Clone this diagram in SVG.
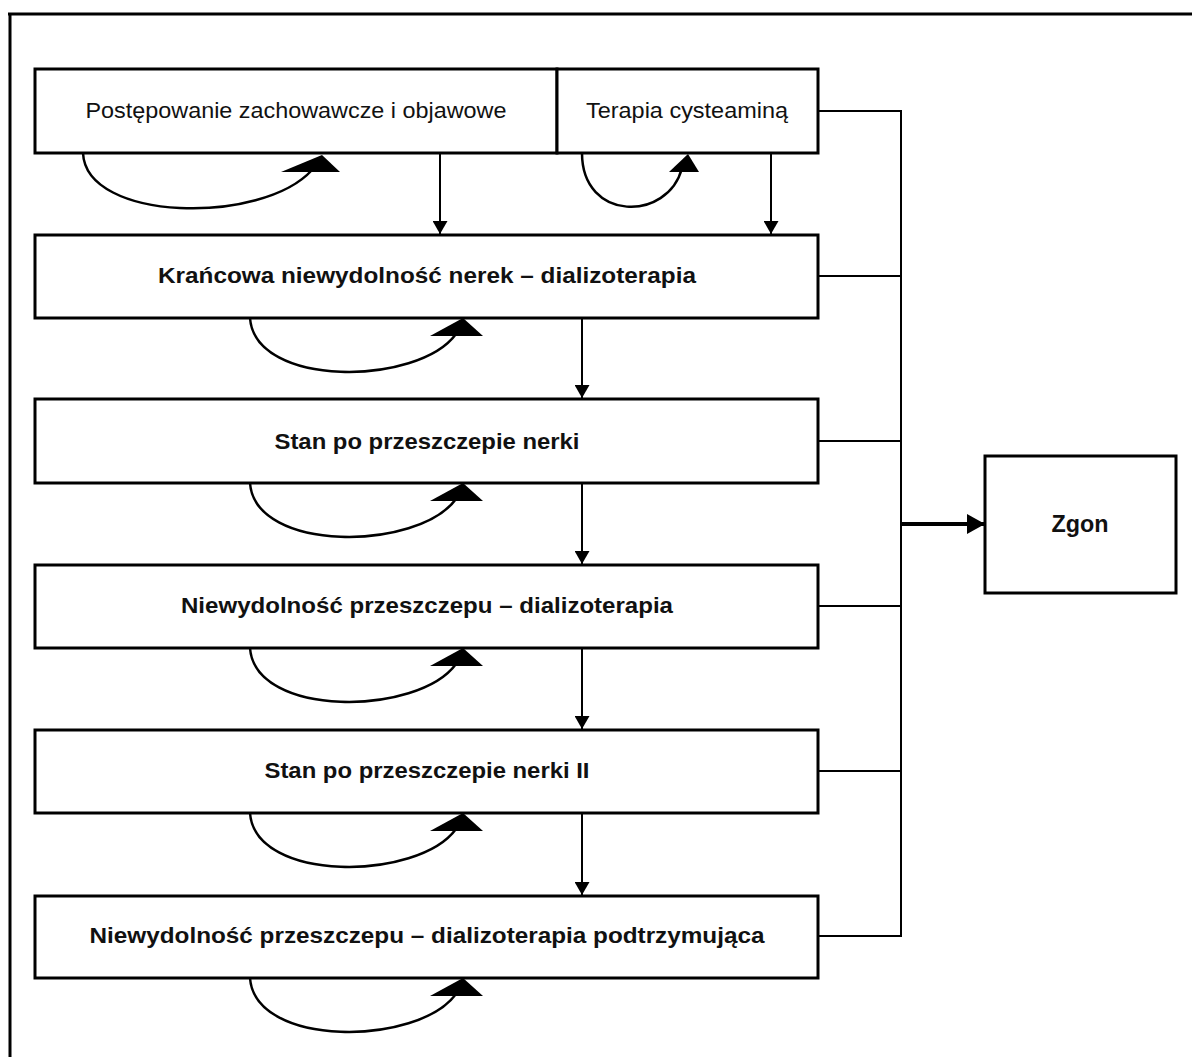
<svg xmlns="http://www.w3.org/2000/svg" width="1192" height="1057" viewBox="0 0 1192 1057">
<style>
.box{fill:#fff;stroke:#000;stroke-width:3}
.t{font-family:"Liberation Sans",Arial,sans-serif;font-size:22px;fill:#111;text-anchor:middle;dominant-baseline:central}
.b{font-weight:bold}
.ln{fill:none;stroke:#000;stroke-width:2}
.loop{fill:none;stroke:#000;stroke-width:2.5}
.ah{fill:#000}
</style>
<defs>
<marker id="arr" markerWidth="13" markerHeight="15" refX="13" refY="7.5" orient="auto" markerUnits="userSpaceOnUse">
<path d="M0,0 L13,7.5 L0,15 Z" fill="#000"/>
</marker>
<marker id="arrB" markerWidth="18" markerHeight="20" refX="18" refY="10" orient="auto" markerUnits="userSpaceOnUse">
<path d="M0,0 L18,10 L0,20 Z" fill="#000"/>
</marker>
</defs>
<rect width="1192" height="1057" fill="#fff"/>
<g id="frame">
<line x1="8" y1="14" x2="1192" y2="14" stroke="#000" stroke-width="3"/>
<line x1="10" y1="13" x2="10" y2="1057" stroke="#000" stroke-width="3"/>
</g>
<g id="node-postepowanie">
<rect class="box" x="35" y="69" width="522" height="84"/>
<text class="t" x="296" y="110" textLength="421" lengthAdjust="spacingAndGlyphs">Postępowanie zachowawcze i objawowe</text>
</g>
<g id="node-terapia">
<rect class="box" x="557" y="69" width="261" height="84"/>
<text class="t" x="687" y="110" textLength="202" lengthAdjust="spacingAndGlyphs">Terapia cysteaminą</text>
</g>
<g id="node-krancowa">
<rect class="box" x="35" y="235" width="783" height="83"/>
<text class="t b" x="427" y="275" textLength="538" lengthAdjust="spacingAndGlyphs">Krańcowa niewydolność nerek – dializoterapia</text>
</g>
<g id="node-stan1">
<rect class="box" x="35" y="399" width="783" height="84"/>
<text class="t b" x="427" y="441" textLength="305" lengthAdjust="spacingAndGlyphs">Stan po przeszczepie nerki</text>
</g>
<g id="node-niewyd1">
<rect class="box" x="35" y="565" width="783" height="83"/>
<text class="t b" x="427" y="605" textLength="492" lengthAdjust="spacingAndGlyphs">Niewydolność przeszczepu – dializoterapia</text>
</g>
<g id="node-stan2">
<rect class="box" x="35" y="730" width="783" height="83"/>
<text class="t b" x="427" y="770" textLength="325" lengthAdjust="spacingAndGlyphs">Stan po przeszczepie nerki II</text>
</g>
<g id="node-niewyd2">
<rect class="box" x="35" y="896" width="783" height="82"/>
<text class="t b" x="427" y="935" textLength="675" lengthAdjust="spacingAndGlyphs">Niewydolność przeszczepu – dializoterapia podtrzymująca</text>
</g>
<g id="node-zgon">
<rect class="box" x="985" y="456" width="191" height="137"/>
<text class="t b" x="1080" y="523" style="font-size:24px" textLength="57" lengthAdjust="spacingAndGlyphs">Zgon</text>
</g>
<g id="connectors">
<line class="ln" x1="440" y1="154" x2="440" y2="234" marker-end="url(#arr)"/>
<line class="ln" x1="771" y1="154" x2="771" y2="234" marker-end="url(#arr)"/>
<line class="ln" x1="582" y1="319" x2="582" y2="398" marker-end="url(#arr)"/>
<line class="ln" x1="582" y1="484" x2="582" y2="564" marker-end="url(#arr)"/>
<line class="ln" x1="582" y1="649" x2="582" y2="729" marker-end="url(#arr)"/>
<line class="ln" x1="582" y1="814" x2="582" y2="895" marker-end="url(#arr)"/>
<path class="ln" d="M818,111 H901 M818,276 H901 M818,441 H901 M818,606 H901 M818,771 H901 M818,936 H901 M901,110 V937"/>
<line x1="901" y1="524" x2="985" y2="524" stroke="#000" stroke-width="4" marker-end="url(#arrB)"/>
<path class="loop" d="M83,153 C86,222 262,225 312,170"/>
<polygon class="ah" points="281,172 340,172 322,155"/>
<path class="loop" d="M582,153 C582,222 668,222 682,168"/>
<polygon class="ah" points="669,172 699,172 688,154"/>
<path class="loop" d="M250,318 C255,388 418,386 456,334"/>
<polygon class="ah" points="430,336 483,336 463,318"/>
<path class="loop" d="M250,483 C255,553 418,551 456,499"/>
<polygon class="ah" points="430,501 483,501 463,483"/>
<path class="loop" d="M250,648 C255,718 418,716 456,664"/>
<polygon class="ah" points="430,666 483,666 463,648"/>
<path class="loop" d="M250,813 C255,883 418,881 456,829"/>
<polygon class="ah" points="430,831 483,831 463,813"/>
<path class="loop" d="M250,978 C255,1048 418,1046 456,994"/>
<polygon class="ah" points="430,996 483,996 463,978"/>
</g>
</svg>
